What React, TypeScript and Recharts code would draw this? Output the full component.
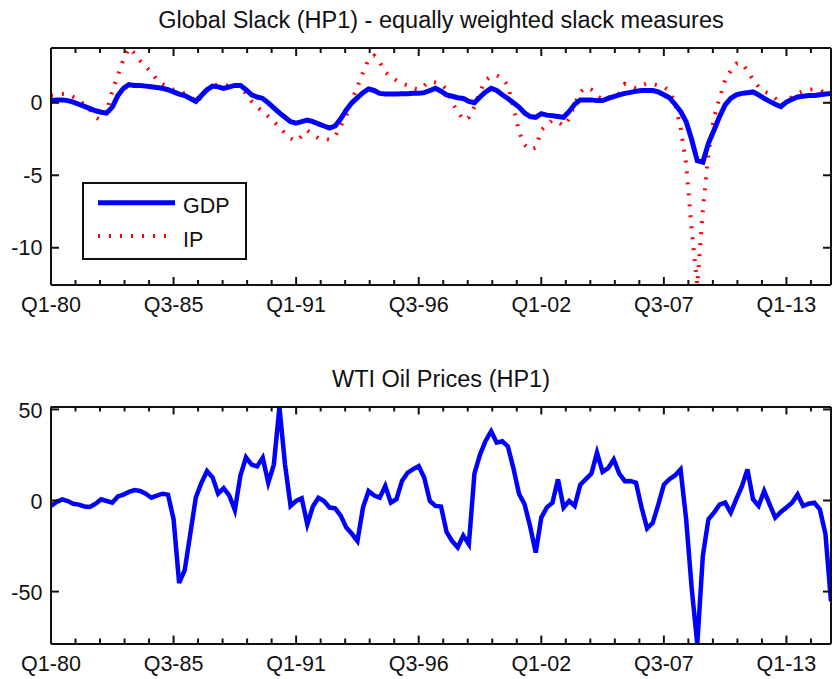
import React from 'react';
import { LineChart, Line, XAxis, YAxis } from 'recharts';

const FONT = '"Liberation Sans", Arial, Helvetica, sans-serif';

// Quarterly observations Q1-1980 .. Q1-2015 (index 0..140)
const gdpSlack = [
  0.15, 0.2, 0.2, 0.15, 0.05, -0.1, -0.25, -0.4, -0.55, -0.65,
  -0.7, -0.3, 0.5, 1.0, 1.25, 1.2, 1.2, 1.15, 1.1, 1.05,
  1.0, 0.9, 0.75, 0.6, 0.5, 0.3, 0.1, 0.5, 0.9, 1.15,
  1.1, 1.0, 1.1, 1.2, 1.2, 0.9, 0.55, 0.4, 0.3, 0.0,
  -0.35, -0.7, -1.0, -1.3, -1.4, -1.3, -1.2, -1.3, -1.45, -1.6,
  -1.75, -1.6, -1.1, -0.5, 0.0, 0.35, 0.7, 0.95, 0.85, 0.65,
  0.6, 0.6, 0.6, 0.62, 0.63, 0.65, 0.65, 0.7, 0.85, 1.0,
  0.8, 0.55, 0.45, 0.35, 0.3, 0.1, 0.0, 0.4, 0.75, 1.0,
  0.85, 0.55, 0.3, 0.0, -0.3, -0.7, -0.95, -1.0, -0.75, -0.85,
  -0.9, -0.95, -1.0, -0.6, -0.1, 0.2, 0.2, 0.2, 0.15, 0.15,
  0.3, 0.42, 0.55, 0.65, 0.72, 0.8, 0.84, 0.85, 0.84, 0.75,
  0.55, 0.35, -0.1, -0.6, -1.3, -2.55, -4.0, -4.1, -2.8, -1.9,
  -0.95, -0.15, 0.3, 0.55, 0.65, 0.7, 0.75, 0.55, 0.3, 0.1,
  -0.1, -0.27, 0.05, 0.25, 0.4, 0.45, 0.5, 0.5, 0.55, 0.6,
  0.65,
];

const ipSlack = [
  0.5, 0.55, 0.6, 0.6, 0.4, 0.2, -0.15, -0.5, -1.0, -1.2,
  -0.6, 0.8, 1.9, 3.0, 3.78, 3.4, 2.9, 2.5, 2.1, 1.6,
  1.3, 1.1, 0.9, 0.77, 0.65, 0.5, 0.0, 0.4, 0.85, 1.2,
  1.25, 1.2, 1.2, 1.25, 1.2, 0.6, 0.1, -0.3, -0.6, -0.95,
  -1.3, -1.7, -2.1, -2.45, -2.65, -2.3, -1.9, -2.2, -2.45, -2.45,
  -2.55, -2.3, -1.6, -0.9, 0.2, 1.1, 2.1, 3.0, 3.25, 2.8,
  2.1, 1.8, 1.55, 1.35, 1.2, 1.0, 0.9, 1.2, 1.45, 1.4,
  1.3, 0.9, 0.0, -0.6, -1.2, -1.0, -0.27, 0.77, 1.55, 1.85,
  1.9, 1.7, 1.2, -0.3, -2.0, -2.9, -3.25, -3.1, -1.9, -1.5,
  -1.2, -1.3, -1.6, -1.1, -0.1, 0.75, 1.05, 0.9, 0.5, 0.2,
  0.35, 0.45, 0.65, 1.3, 1.1, 1.0, 1.2, 1.34, 1.3, 1.2,
  1.1, 0.8, 0.0, -1.7, -4.2, -8.8, -12.57, -7.4, -3.5, -1.0,
  0.3, 1.6, 2.2, 2.7, 2.75, 2.2, 1.6, 1.1, 0.8, 0.6,
  0.3, -0.2, 0.1, 0.4, 0.65, 0.8, 0.9, 0.93, 0.9, 0.6,
  0.5,
];

const wtiOil = [
  -2.7, -0.5, 0.9, 0.0, -1.5, -2.0, -3.0, -3.3, -1.5, 0.9,
  0.0, -0.9, 2.5, 3.5, 5.0, 6.0, 5.5, 4.0, 1.8, 3.0,
  4.0, 3.5, -10, -45, -38, -18, 2, 10, 16.4, 13,
  4, 7, 3, -5, 14, 24, 20, 19, 23.7, 10,
  20, 51.6, 20, -2.7, 0, 1.5, -12.8, -3, 1.8, 0,
  -3.6, -4, -8, -14.6, -18, -22, -3.6, 5.5, 3, 1.8,
  8.2, -0.9, 1, 11, 15.5, 17.5, 19.2, 12.8, 0, -2.7,
  -3, -17, -22, -25.5, -19, -23.7, 15, 25.5, 33, 38.3,
  32, 32.8, 30, 18, 4, -1.8, -14, -28.3, -9.1, -3.5,
  -1, 11.9, -3.6, 0, -2.7, 9, 12, 15, 26.5, 16,
  18, 22.8, 15, 10.9, 11, 10, -3.6, -15, -12, -2,
  9, 12, 14, 17.3, -10, -48, -78.5, -30, -10, -6.4,
  -2, -0.9, -6.4, 1, 8, 17.3, 1, -2.7, 5.5, -2,
  -9.1, -6, -3.6, -1, 3.6, -2.7, -1.5, -0.9, -4.6, -18,
  -55,
];

const xTickValues = [
  0, 4.4, 8.8, 13.2, 17.6, 22, 26.4, 30.8, 35.2, 39.6,
  44, 48.4, 52.8, 57.2, 61.6, 66, 70.4, 74.8, 79.2, 83.6,
  88, 92.4, 96.8, 101.2, 105.6, 110, 114.4, 118.8, 123.2, 127.6,
  132, 136.4,
];
const xMajorTicks = [0, 22, 44, 66, 88, 110, 132];
const xTickLabels = ['Q1-80', 'Q3-85', 'Q1-91', 'Q3-96', 'Q1-02', 'Q3-07', 'Q1-13'];

const xDomain = [0, 140];
const slackYTicks = [-10, -5, 0];
const slackDomain = [-12.57, 3.78];
const oilYTicks = [-50, 0, 50];
const oilDomain = [-78.5, 51.6];

const slackTitle = 'Global Slack (HP1) - equally weighted slack measures';
const oilTitle = 'WTI Oil Prices (HP1)';
const legendNames = ['GDP', 'IP'];

const slackData = gdpSlack.map((g, i) => ({ q: i, gdp: g, ip: ipSlack[i] }));
const oilData = wtiOil.map((v, i) => ({ q: i, oil: v }));

const TICK_FONT = 21.5;
const BLUE = '#0000ff';
const RED = '#ff0000';
const INK = '#111';
const LW = 2;

// chart geometry (shared by both panels)
const CHART_W = 835;
const CHART_H = 340;
const MARGIN = { top: 47, right: 3, left: 0, bottom: 0 };
const TOP_AXIS_H = 1;
const BOTTOM_AXIS_H = 55;
const LEFT_AXIS_W = 51;
const RIGHT_AXIS_W = 1;
const PANEL2_TOP = 358.5;
const PLOT_L = MARGIN.left + LEFT_AXIS_W;
const PLOT_R = CHART_W - MARGIN.right - RIGHT_AXIS_W;
const PLOT_T = MARGIN.top + TOP_AXIS_H;
const PLOT_B = CHART_H - MARGIN.bottom - BOTTOM_AXIS_H;

function majorIndex(v: number) {
  return xMajorTicks.findIndex((m) => Math.abs(m - v) < 1e-6);
}

const BottomLabel = (props: any) => {
  const { x, y, payload } = props;
  const idx = majorIndex(payload.value);
  if (idx < 0) return <g />;
  return (
    <text x={x} y={y + 27} textAnchor="middle" fontSize={TICK_FONT} fontFamily={FONT} fill={INK}>
      {xTickLabels[idx]}
    </text>
  );
};

const LeftLabel = (props: any) => {
  const { x, y, payload } = props;
  return (
    <text x={x - 8.6} y={y + 7.7} textAnchor="end" fontSize={TICK_FONT} fontFamily={FONT} fill={INK}>
      {String(payload.value)}
    </text>
  );
};

const axisLine = { stroke: INK, strokeWidth: LW };

// Inward box ticks (drawn on top, using the same linear mapping as the axes)
function BoxTicks({ offsetY, yDomain, yTicks }: { offsetY: number; yDomain: number[]; yTicks: number[] }) {
  const sx = (v: number) => PLOT_L + ((v - xDomain[0]) / (xDomain[1] - xDomain[0])) * (PLOT_R - PLOT_L);
  const sy = (v: number) => offsetY + PLOT_T + ((yDomain[1] - v) / (yDomain[1] - yDomain[0])) * (PLOT_B - PLOT_T);
  const top = offsetY + PLOT_T;
  const bot = offsetY + PLOT_B;
  return (
    <g stroke={INK} strokeWidth={LW}>
      {xTickValues.map((v) => {
        const len = majorIndex(v) >= 0 ? 8 : 5;
        const x = sx(v);
        return (
          <g key={'x' + v}>
            <line x1={x} x2={x} y1={bot} y2={bot - len} />
            <line x1={x} x2={x} y1={top} y2={top + len} />
          </g>
        );
      })}
      {yTicks.map((v) => {
        const y = sy(v);
        return (
          <g key={'y' + v}>
            <line x1={PLOT_L} x2={PLOT_L + 8} y1={y} y2={y} />
            <line x1={PLOT_R} x2={PLOT_R - 8} y1={y} y2={y} />
          </g>
        );
      })}
    </g>
  );
}

function Axes({ yDomain, yTicks }: { yDomain: number[]; yTicks: number[] }) {
  return null;
}

export default function App() {
  return (
    <div style={{ position: 'absolute', left: 0, top: 0, width: 835, height: 679, background: '#fff' }}>
      <div style={{ position: 'absolute', left: 0, top: 0 }}>
        <LineChart width={CHART_W} height={CHART_H} data={slackData} margin={MARGIN}>
          <XAxis xAxisId="b" dataKey="q" type="number" domain={xDomain} allowDataOverflow ticks={xTickValues}
            interval={0} height={BOTTOM_AXIS_H} tickSize={0} tickMargin={0} tickLine={false} axisLine={axisLine} tick={BottomLabel} />
          <XAxis xAxisId="t" orientation="top" dataKey="q" type="number" domain={xDomain} allowDataOverflow
            height={TOP_AXIS_H} tickLine={false} axisLine={axisLine} tick={false} />
          <YAxis yAxisId="l" type="number" domain={slackDomain} allowDataOverflow ticks={slackYTicks} interval={0}
            width={LEFT_AXIS_W} tickSize={0} tickMargin={0} tickLine={false} axisLine={axisLine} tick={LeftLabel} />
          <YAxis yAxisId="r" orientation="right" type="number" domain={slackDomain} allowDataOverflow
            width={RIGHT_AXIS_W} tickLine={false} axisLine={axisLine} tick={false} />
          <Line xAxisId="b" yAxisId="l" type="linear" dataKey="ip" name={legendNames[1]} stroke={RED} strokeWidth={4}
            strokeDasharray="2 9" dot={false} activeDot={false} isAnimationActive={false} />
          <Line xAxisId="b" yAxisId="l" type="linear" dataKey="gdp" name={legendNames[0]} stroke={BLUE} strokeWidth={5}
            dot={false} activeDot={false} isAnimationActive={false} />
        </LineChart>
      </div>
      <div style={{ position: 'absolute', left: 0, top: PANEL2_TOP }}>
        <LineChart width={CHART_W} height={CHART_H} data={oilData} margin={MARGIN}>
          <XAxis xAxisId="b" dataKey="q" type="number" domain={xDomain} allowDataOverflow ticks={xTickValues}
            interval={0} height={BOTTOM_AXIS_H} tickSize={0} tickMargin={0} tickLine={false} axisLine={axisLine} tick={BottomLabel} />
          <XAxis xAxisId="t" orientation="top" dataKey="q" type="number" domain={xDomain} allowDataOverflow
            height={TOP_AXIS_H} tickLine={false} axisLine={axisLine} tick={false} />
          <YAxis yAxisId="l" type="number" domain={oilDomain} allowDataOverflow ticks={oilYTicks} interval={0}
            width={LEFT_AXIS_W} tickSize={0} tickMargin={0} tickLine={false} axisLine={axisLine} tick={LeftLabel} />
          <YAxis yAxisId="r" orientation="right" type="number" domain={oilDomain} allowDataOverflow
            width={RIGHT_AXIS_W} tickLine={false} axisLine={axisLine} tick={false} />
          <Line xAxisId="b" yAxisId="l" type="linear" dataKey="oil" stroke={BLUE} strokeWidth={4.5}
            dot={false} activeDot={false} isAnimationActive={false} />
        </LineChart>
      </div>
      <svg width={835} height={679} style={{ position: 'absolute', left: 0, top: 0, pointerEvents: 'none' }}>
        <BoxTicks offsetY={0} yDomain={slackDomain} yTicks={slackYTicks} />
        <BoxTicks offsetY={PANEL2_TOP} yDomain={oilDomain} yTicks={oilYTicks} />
        <text x={441} y={28.3} textAnchor="middle" fontSize={23.5} fontFamily={FONT} fill={INK}>{slackTitle}</text>
        <text x={441} y={386.7} textAnchor="middle" fontSize={23.5} fontFamily={FONT} fill={INK}>{oilTitle}</text>
        <rect x={83} y={183} width={163} height={76} fill="#fff" stroke={INK} strokeWidth={LW} />
        <line x1={98} x2={175} y1={202.7} y2={202.7} stroke={BLUE} strokeWidth={5} />
        <text x={183} y={212.5} fontSize={TICK_FONT} fontFamily={FONT} fill={INK}>{legendNames[0]}</text>
        <line x1={98} x2={175} y1={236} y2={236} stroke={RED} strokeWidth={4} strokeDasharray="2 9" />
        <text x={183} y={246.5} fontSize={TICK_FONT} fontFamily={FONT} fill={INK}>{legendNames[1]}</text>
      </svg>
    </div>
  );
}
